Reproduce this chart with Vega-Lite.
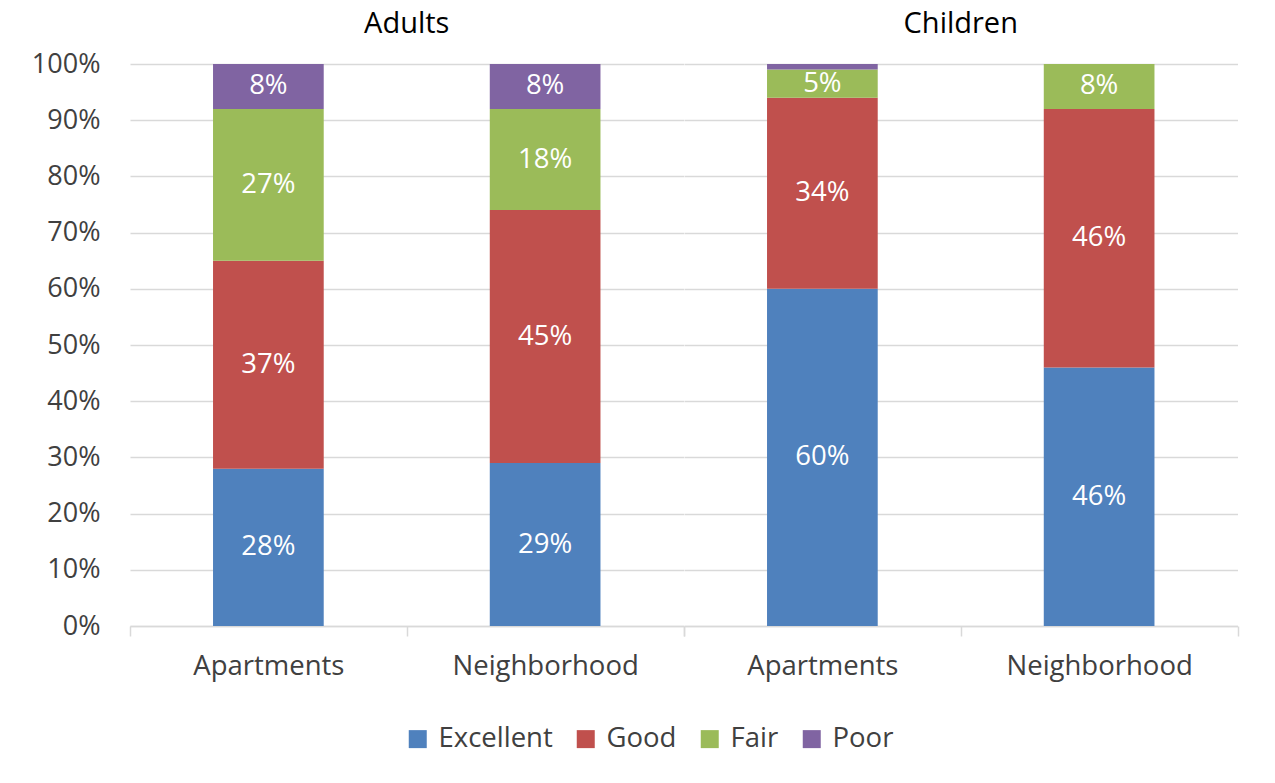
{
  "$schema": "https://vega.github.io/schema/vega-lite/v6.json",
  "padding": {"left": 31, "top": 10, "right": 10, "bottom": 10},
  "background": "white",
  "data": {
    "values": [
      {"group": "Adults", "location": "Apartments", "rating": "Excellent", "value": 0.28},
      {"group": "Adults", "location": "Apartments", "rating": "Good", "value": 0.37},
      {"group": "Adults", "location": "Apartments", "rating": "Fair", "value": 0.27},
      {"group": "Adults", "location": "Apartments", "rating": "Poor", "value": 0.08},
      {"group": "Adults", "location": "Neighborhood", "rating": "Excellent", "value": 0.29},
      {"group": "Adults", "location": "Neighborhood", "rating": "Good", "value": 0.45},
      {"group": "Adults", "location": "Neighborhood", "rating": "Fair", "value": 0.18},
      {"group": "Adults", "location": "Neighborhood", "rating": "Poor", "value": 0.08},
      {"group": "Children", "location": "Apartments", "rating": "Excellent", "value": 0.60},
      {"group": "Children", "location": "Apartments", "rating": "Good", "value": 0.34},
      {"group": "Children", "location": "Apartments", "rating": "Fair", "value": 0.05},
      {"group": "Children", "location": "Apartments", "rating": "Poor", "value": 0.01},
      {"group": "Children", "location": "Neighborhood", "rating": "Excellent", "value": 0.46},
      {"group": "Children", "location": "Neighborhood", "rating": "Good", "value": 0.46},
      {"group": "Children", "location": "Neighborhood", "rating": "Fair", "value": 0.08}
    ]
  },
  "transform": [
    {"calculate": "indexof(['Excellent','Good','Fair','Poor'], datum.rating)", "as": "rank"}
  ],
  "facet": {
    "column": {
      "field": "group",
      "type": "nominal",
      "sort": ["Adults", "Children"],
      "header": {
        "title": null,
        "labelFont": "Open Sans",
        "labelFontSize": 29,
        "labelColor": "#000000",
        "labelPadding": 25
      }
    }
  },
  "spacing": 0,
  "spec": {
    "width": 553.5,
    "height": 562,
    "layer": [
      {
        "mark": {"type": "bar", "width": {"band": 0.4}},
        "encoding": {
          "x": {
            "field": "location",
            "type": "nominal",
            "sort": ["Apartments", "Neighborhood"],
            "scale": {"paddingInner": 0, "paddingOuter": 0},
            "axis": {
              "title": null,
              "labelAngle": 0,
              "labelLimit": 400,
              "tickBand": "extent",
              "tickSize": 10,
              "tickColor": "#d9d9d9",
              "tickWidth": 1.5,
              "domainColor": "#d9d9d9",
              "domainWidth": 1.5,
              "labelPadding": 16,
              "labelFontSize": 27.5,
              "labelColor": "#404040",
              "labelFont": "Open Sans"
            }
          },
          "y": {
            "field": "value",
            "type": "quantitative",
            "stack": "zero",
            "scale": {"domain": [0, 1]},
            "axis": {
              "title": null,
              "values": [0, 0.1, 0.2, 0.3, 0.4, 0.5, 0.6, 0.7, 0.8, 0.9, 1],
              "format": ".0%",
              "ticks": false,
              "domain": false,
              "grid": true,
              "gridColor": "#d9d9d9",
              "gridWidth": 1.5,
              "labelPadding": 30,
              "labelFontSize": 27,
              "labelColor": "#404040",
              "labelFont": "Open Sans"
            }
          },
          "order": {"field": "rank", "type": "quantitative", "sort": "ascending"},
          "color": {
            "field": "rating",
            "type": "nominal",
            "scale": {
              "domain": ["Excellent", "Good", "Fair", "Poor"],
              "range": ["#4F81BD", "#C0504D", "#9BBB59", "#8064A2"]
            },
            "legend": {
              "title": null,
              "orient": "none",
              "direction": "horizontal",
              "legendX": 274,
              "legendY": 661,
              "symbolType": "square",
              "symbolSize": 324,
              "symbolStrokeWidth": 0,
              "symbolOpacity": 1,
              "labelFontSize": 27.5,
              "labelFont": "Open Sans",
              "labelColor": "#404040",
              "labelOffset": 7,
              "columnPadding": 19
            }
          }
        }
      },
      {
        "transform": [{"filter": "datum.value >= 0.02"}],
        "mark": {"type": "text", "color": "white", "fontSize": 27.5, "font": "Open Sans", "baseline": "middle"},
        "encoding": {
          "x": {"field": "location", "type": "nominal", "sort": ["Apartments", "Neighborhood"]},
          "y": {"field": "value", "type": "quantitative", "stack": "zero", "bandPosition": 0.5},
          "order": {"field": "rank", "type": "quantitative", "sort": "ascending"},
          "text": {"field": "value", "type": "quantitative", "format": ".0%"},
          "detail": {"field": "rating", "type": "nominal"}
        }
      }
    ]
  },
  "config": {
    "view": {"stroke": null},
    "font": "Open Sans"
  }
}
